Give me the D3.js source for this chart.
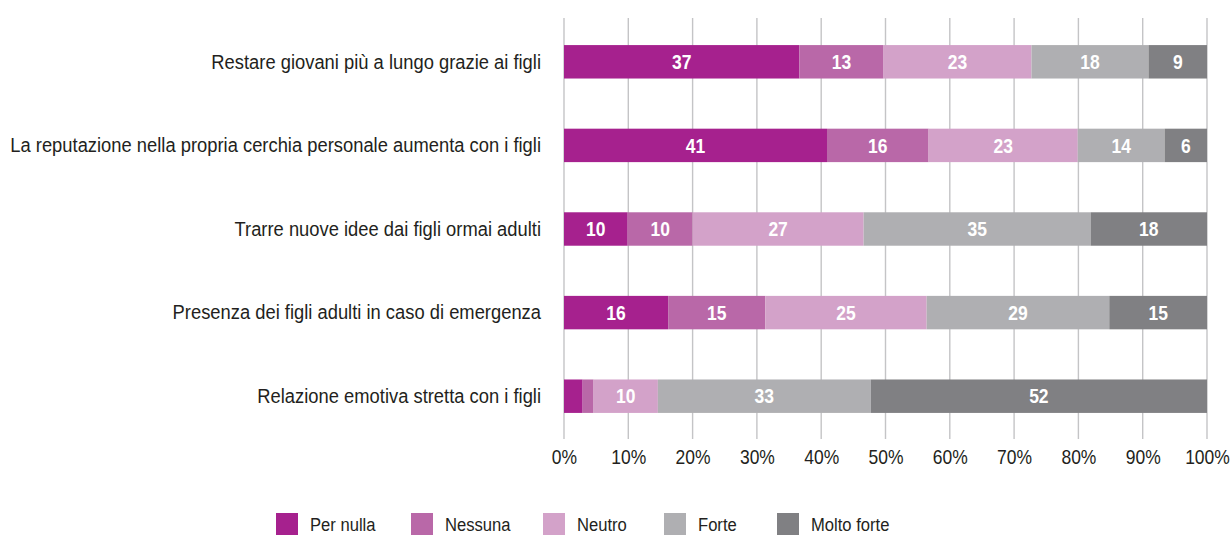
<!DOCTYPE html>
<html><head><meta charset="utf-8">
<script src="https://cdn.jsdelivr.net/npm/d3@7"></script>
<style>
html,body{margin:0;padding:0;background:#fff;}
svg{display:block;}
text{font-family:"Liberation Sans",Arial,sans-serif;}
</style></head>
<body>
<svg id="chart" width="1230" height="536"></svg>
<script>
const categories = [
  "Restare giovani più a lungo grazie ai figli",
  "La reputazione nella propria cerchia personale aumenta con i figli",
  "Trarre nuove idee dai figli ormai adulti",
  "Presenza dei figli adulti in caso di emergenza",
  "Relazione emotiva stretta con i figli"
];
const seriesNames = ["Per nulla","Nessuna","Neutro","Forte","Molto forte"];
const perNulla   = [36.6, 40.9,  9.9, 16.2,  2.9];
const nessuna    = [13.1, 15.8, 10.1, 15.1,  1.7];
const neutro     = [23.0, 23.2, 26.6, 25.1, 10.0];
const forte      = [18.2, 13.5, 35.3, 28.4, 33.1];
const moltoForte = [ 9.1,  6.6, 18.1, 15.2, 52.3];
const valueLabels = [
  [37,13,23,18,9],
  [41,16,23,14,6],
  [10,10,27,35,18],
  [16,15,25,29,15],
  [null,null,10,33,52]
];
const tickValues = [0,10,20,30,40,50,60,70,80,90,100];
const colors = ["#a6218e","#b968a8","#d3a2c9","#afafb2","#808083"];

const series = [perNulla, nessuna, neutro, forte, moltoForte];
const rows = categories.map((c,i)=>{
  const o = {cat:c, idx:i};
  seriesNames.forEach((s,j)=>o[s]=series[j][i]);
  return o;
});

const svg = d3.select("#chart");
const x = d3.scaleLinear().domain([0,100]).range([564,1207]);
const y = d3.scaleBand().domain(categories).range([20,438]).paddingInner(0.6).paddingOuter(0.3);

// condensation factor to mimic a condensed typeface: fit the longest label to its width
const probe = svg.append("text").attr("font-size",21).text(categories[1]);
const F = 531 / probe.node().getComputedTextLength();
probe.remove();

// gridlines
svg.append("g").selectAll("line").data(tickValues).join("line")
  .attr("x1",d=>x(d)).attr("x2",d=>x(d))
  .attr("y1",18).attr("y2",439)
  .attr("stroke","#c4c4c6").attr("stroke-width",1.4);

// x axis labels
const xAxis = d3.axisBottom(x).tickValues(tickValues).tickFormat(d=>d+"%").tickSize(0).tickPadding(0);
const gx = svg.append("g").attr("transform","translate(0,450)").call(xAxis);
gx.select(".domain").remove();
gx.selectAll("text").attr("fill","#231f20").attr("font-size",20)
  .style("font-family",'"Liberation Sans",Arial,sans-serif')
  .attr("transform",`scale(${F},1)`);

const stack = d3.stack().keys(seriesNames)(rows);

const layers = svg.append("g").selectAll("g").data(stack).join("g")
  .attr("fill",(d,i)=>colors[i]);
layers.selectAll("rect").data(d=>d).join("rect")
  .attr("x",d=>x(d[0])).attr("width",d=>x(d[1])-x(d[0]))
  .attr("y",d=>y(d.data.cat)).attr("height",y.bandwidth());

// value labels
stack.forEach((layer,j)=>{
  svg.append("g").selectAll("text").data(layer).join("text")
    .filter(d=>valueLabels[d.data.idx][j]!=null)
    .attr("transform",d=>`translate(${x((d[0]+d[1])/2)},${y(d.data.cat)+y.bandwidth()/2}) scale(${F},1)`)
    .attr("dy","0.36em")
    .attr("text-anchor","middle")
    .attr("fill","#fff").attr("font-weight","bold").attr("font-size",20)
    .text(d=>valueLabels[d.data.idx][j]);
});

// y axis labels
const yAxis = d3.axisLeft(y).tickSize(0).tickPadding(0);
const gy = svg.append("g").attr("transform","translate(541,0)").call(yAxis);
gy.select(".domain").remove();
gy.selectAll("text").attr("fill","#231f20").attr("font-size",21)
  .style("font-family",'"Liberation Sans",Arial,sans-serif')
  .attr("transform",`scale(${F},1)`);

// legend
const legendOffsets = [276,411,543,664,777];
const leg = svg.append("g").selectAll("g").data(seriesNames).join("g")
  .attr("transform",(d,i)=>`translate(${legendOffsets[i]},513)`);
leg.append("rect").attr("width",22).attr("height",22).attr("fill",(d,i)=>colors[i]);
leg.append("text").attr("transform",`translate(34,11) scale(${F},1)`).attr("dy","0.36em")
  .attr("fill","#231f20").attr("font-size",19).text(d=>d);
</script>
</body></html>
